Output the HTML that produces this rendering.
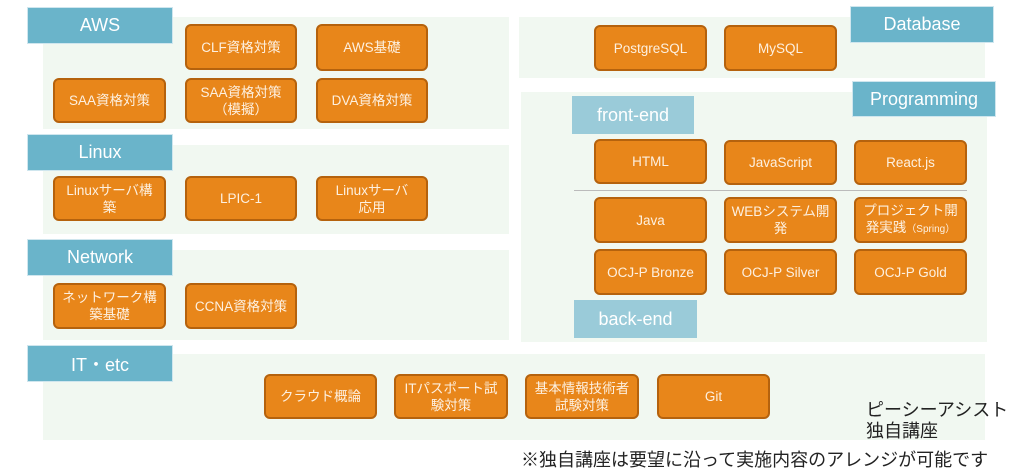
<!DOCTYPE html>
<html><head><meta charset="utf-8"><style>
body{margin:0;width:1024px;height:472px;background:#fff;position:relative;overflow:hidden;font-family:"Liberation Sans","Noto Sans CJK JP",sans-serif}
div{position:absolute;box-sizing:border-box}
.p{background:#f1f8f1}
.h{background:#6ab4ca;color:#fff;font-size:18px;display:flex;align-items:center;justify-content:center;border:1px solid #cfe6ee}
.s{background:#9acbd9;color:#fff;font-size:18px;display:flex;align-items:center;justify-content:center}
.b{background:#e8861a;border:2.5px solid #b5620d;border-radius:6px;color:#fdf0e0;font-size:13.5px;line-height:17px;display:flex;align-items:center;justify-content:center;text-align:center}
.b span{display:block}
.t{color:#222;font-size:18px;line-height:21px;white-space:nowrap}
</style></head><body>
<div class="p" style="left:43px;top:17px;width:466px;height:112px"></div>
<div class="p" style="left:43px;top:145px;width:466px;height:89px"></div>
<div class="p" style="left:43px;top:250px;width:466px;height:90px"></div>
<div class="p" style="left:43px;top:354px;width:942px;height:86px"></div>
<div class="p" style="left:519px;top:17px;width:466px;height:61px"></div>
<div class="p" style="left:521px;top:92px;width:466px;height:250px"></div>

<div class="h" style="left:27px;top:7px;width:146px;height:37px">AWS</div>
<div class="h" style="left:27px;top:134px;width:146px;height:37px">Linux</div>
<div class="h" style="left:27px;top:239px;width:146px;height:37px">Network</div>
<div class="h" style="left:27px;top:345px;width:146px;height:37px">IT・etc</div>
<div class="h" style="left:850px;top:6px;width:144px;height:37px">Database</div>
<div class="h" style="left:852px;top:81px;width:144px;height:36px">Programming</div>
<div class="s" style="left:572px;top:96px;width:122px;height:38px">front-end</div>
<div class="s" style="left:574px;top:300px;width:123px;height:38px">back-end</div>
<div style="left:574px;top:190px;width:393px;height:1px;background:#bbb"></div>

<div class="b" style="left:185px;top:24px;width:112px;height:46px">CLF資格対策</div>
<div class="b" style="left:316px;top:24px;width:112px;height:47px">AWS基礎</div>
<div class="b" style="left:53px;top:78px;width:113px;height:45px">SAA資格対策</div>
<div class="b" style="left:185px;top:78px;width:112px;height:45px"><span>SAA資格対策<br>（模擬）</span></div>
<div class="b" style="left:316px;top:78px;width:112px;height:45px">DVA資格対策</div>

<div class="b" style="left:53px;top:176px;width:113px;height:45px"><span>Linuxサーバ構<br>築</span></div>
<div class="b" style="left:185px;top:176px;width:112px;height:45px">LPIC-1</div>
<div class="b" style="left:316px;top:176px;width:112px;height:45px"><span>Linuxサーバ<br>応用</span></div>

<div class="b" style="left:53px;top:283px;width:113px;height:46px"><span>ネットワーク構<br>築基礎</span></div>
<div class="b" style="left:185px;top:283px;width:112px;height:46px">CCNA資格対策</div>

<div class="b" style="left:264px;top:374px;width:113px;height:45px">クラウド概論</div>
<div class="b" style="left:394px;top:374px;width:114px;height:45px"><span>ITパスポート試<br>験対策</span></div>
<div class="b" style="left:525px;top:374px;width:114px;height:45px"><span>基本情報技術者<br>試験対策</span></div>
<div class="b" style="left:657px;top:374px;width:113px;height:45px">Git</div>

<div class="b" style="left:594px;top:25px;width:113px;height:46px">PostgreSQL</div>
<div class="b" style="left:724px;top:25px;width:113px;height:46px">MySQL</div>

<div class="b" style="left:594px;top:139px;width:113px;height:45px">HTML</div>
<div class="b" style="left:724px;top:140px;width:113px;height:45px">JavaScript</div>
<div class="b" style="left:854px;top:140px;width:113px;height:45px">React.js</div>
<div class="b" style="left:594px;top:197px;width:113px;height:46px">Java</div>
<div class="b" style="left:724px;top:197px;width:113px;height:46px"><span>WEBシステム開<br>発</span></div>
<div class="b" style="left:854px;top:197px;width:113px;height:46px"><span>プロジェクト開<br>発実践<span style="display:inline;font-size:10px">（Spring）</span></span></div>
<div class="b" style="left:594px;top:249px;width:113px;height:46px">OCJ-P Bronze</div>
<div class="b" style="left:724px;top:249px;width:113px;height:46px">OCJ-P Silver</div>
<div class="b" style="left:854px;top:249px;width:113px;height:46px">OCJ-P Gold</div>

<div class="t" style="left:866px;top:400px">ピーシーアシスト<br>独自講座</div>
<div class="t" style="left:521px;top:450px">※独自講座は要望に沿って実施内容のアレンジが可能です</div>
</body></html>
